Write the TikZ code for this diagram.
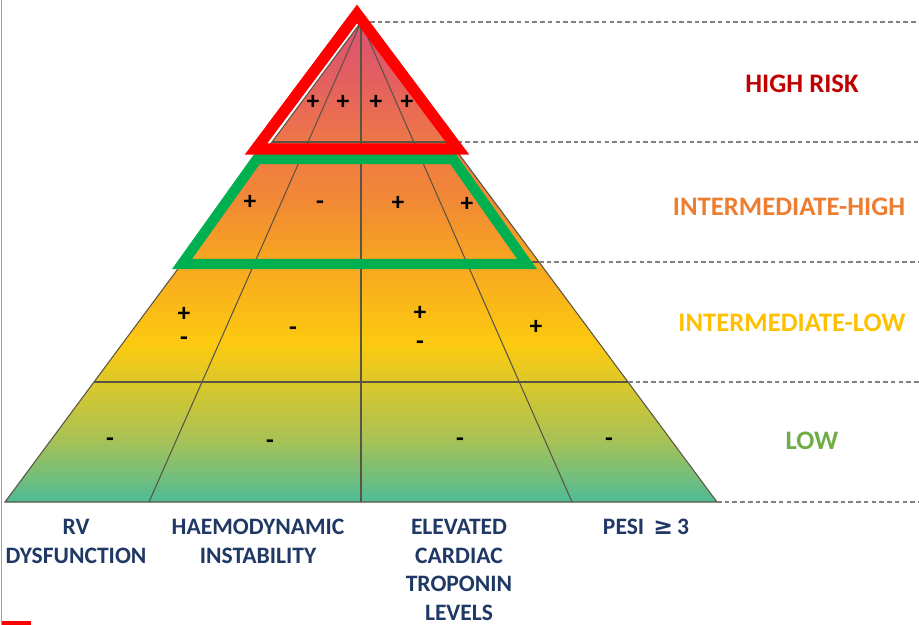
\documentclass[tikz,border=0pt]{standalone}
\usepackage{fontspec}
\setmainfont{Carlito}
\newfontfamily\symfont{DejaVu Sans}
\usetikzlibrary{calc}

\definecolor{c0}{HTML}{DA5272}
\definecolor{c1}{HTML}{E4605F}
\definecolor{c2}{HTML}{EE7748}
\definecolor{c3}{HTML}{F28A34}
\definecolor{c4}{HTML}{F8A720}
\definecolor{c5}{HTML}{FCCA10}
\definecolor{c6}{HTML}{DCC82A}
\definecolor{c7}{HTML}{A8C255}
\definecolor{c8}{HTML}{4EBB96}
\definecolor{riskred}{HTML}{C00000}
\definecolor{riskorange}{HTML}{ED7D31}
\definecolor{riskyellow}{HTML}{FFC000}
\definecolor{riskgreen}{HTML}{70AD47}
\definecolor{labelblue}{HTML}{1F3864}
\definecolor{gridline}{HTML}{5A5444}

% colour run of the pyramid, bottom (25bp) to top (75bp)
\pgfdeclareverticalshading{riskfade}{100bp}{color(0bp)=(c8); color(25bp)=(c8); color(31.5bp)=(c7); color(37.5bp)=(c6); color(41.4bp)=(c5); color(49.9bp)=(c4); color(56.1bp)=(c3); color(62.5bp)=(c2); color(68.75bp)=(c1); color(75bp)=(c0); color(100bp)=(c0)}

\tikzset{
  grid line/.style={draw=gridline, line width=0.6pt},
  level/.style={draw=gray, line width=0.6pt, dash pattern=on 2.6pt off 1.8pt},
  sign/.style={font=\bfseries\fontsize{14.5}{14.5}\selectfont, inner sep=0pt},
  minus/.style={sign, yshift=-1.6pt},
  risk/.style={font=\bfseries\fontsize{15.2}{15.2}\selectfont, inner sep=0pt},
  column/.style={font=\bfseries\fontsize{13.4}{16.2}\selectfont, text=labelblue, align=center, inner sep=0pt, anchor=north},
}

\begin{document}
\begin{tikzpicture}[x=0.02cm, y=-0.02cm]
\useasboundingbox (0,0) rectangle (919,625);

\coordinate (apex) at (361,22);
\coordinate (bl) at (5,502);
\coordinate (br) at (717,502);
\coordinate (edge) at (919,0);
\foreach \i/\t in {1/0.25,2/0.5,3/0.75}{
  \coordinate (L\i) at ($(apex)!\t!(bl)$);
  \coordinate (R\i) at ($(apex)!\t!(br)$);
}
\coordinate (d1) at (149,502);
\coordinate (d2) at (361,502);
\coordinate (d3) at (572,502);

% pyramid body and grid
\shade[shading=riskfade] (apex) -- (br) -- (bl) -- cycle;
\draw[grid line] (apex) -- (d1);
\draw[grid line] (apex) -- (d2);
\draw[grid line] (apex) -- (d3);
\foreach \i in {1,2,3}
  \draw[grid line] (L\i) -- (R\i);
\draw[grid line] (apex) -- (br) -- (bl) -- cycle;

% dashed level lines
\coordinate (tip) at (370,22);
\draw[level] (tip) -- (tip -| edge);
\foreach \i in {1,2,3}
  \draw[level] (R\i) -- (R\i -| edge);
\draw[level] (br) -- (br -| edge);

% green frame, intermediate-high
\coordinate (g1) at (257,159);
\coordinate (g2) at (453,159);
\coordinate (g3) at (527,264);
\coordinate (g4) at (182,264);
\draw[draw={rgb,255:red,0;green,176;blue,80}, line width=5.9pt] (g1) -- (g2) -- (g3) -- (g4) -- cycle;

% red frame, high risk
\coordinate (r1) at (357,14);
\coordinate (r2) at (458,149);
\coordinate (r3) at (256,149);
\draw[draw=red, line width=6.4pt] (r1) -- (r2) -- (r3) -- cycle;

% signs
\node[sign] (h1) at (313,102) {+};
\node[sign] (h2) at (343,102) {+};
\node[sign] (h3) at (376,102) {+};
\node[sign] (h4) at (407,102) {+};

\node[sign] (ih1) at (250,202) {+};
\node[minus] (ih2) at (320,202) {-};
\node[sign] (ih3) at (398,203) {+};
\node[sign] (ih4) at (467,204) {+};

\node[sign] (il1a) at (184,314) {+};
\node[minus] (il1b) at (184,338) {-};
\node[minus] (il2) at (293,328) {-};
\node[sign] (il3a) at (420,313) {+};
\node[minus] (il3b) at (420,342) {-};
\node[sign] (il4) at (536,327) {+};

\node[minus] (lo1) at (110,439) {-};
\node[minus] (lo2) at (270,441) {-};
\node[minus] (lo3) at (460,439) {-};
\node[minus] (lo4) at (609,439) {-};

% risk classes
\node[risk, text=riskred] (high) at (802,84) {HIGH RISK};
\node[risk, text=riskorange] (inthigh) at (789,207) {INTERMEDIATE-HIGH};
\node[risk, text=riskyellow] (intlow) at (792,323) {INTERMEDIATE-LOW};
\node[risk, text=riskgreen] (low) at (812,441) {LOW};

% criteria below the columns
\node[column] (rv) at (76,519) {RV\\DYSFUNCTION};
\node[column] (haemo) at (258,519) {HAEMODYNAMIC\\INSTABILITY};
\node[column] (tropo) at (459,519) {ELEVATED\\CARDIAC\\TROPONIN\\LEVELS};
\node[column] (pesi) at (646,519) {PESI\, {\symfont\bfseries ≥}\,3};

% slide edge
\draw[draw={rgb,255:red,240;green,128;blue,128}, line width=0.5pt] (1,0) -- (1,625);
\fill[red] (2,621) rectangle (31,625);
\end{tikzpicture}
\end{document}
